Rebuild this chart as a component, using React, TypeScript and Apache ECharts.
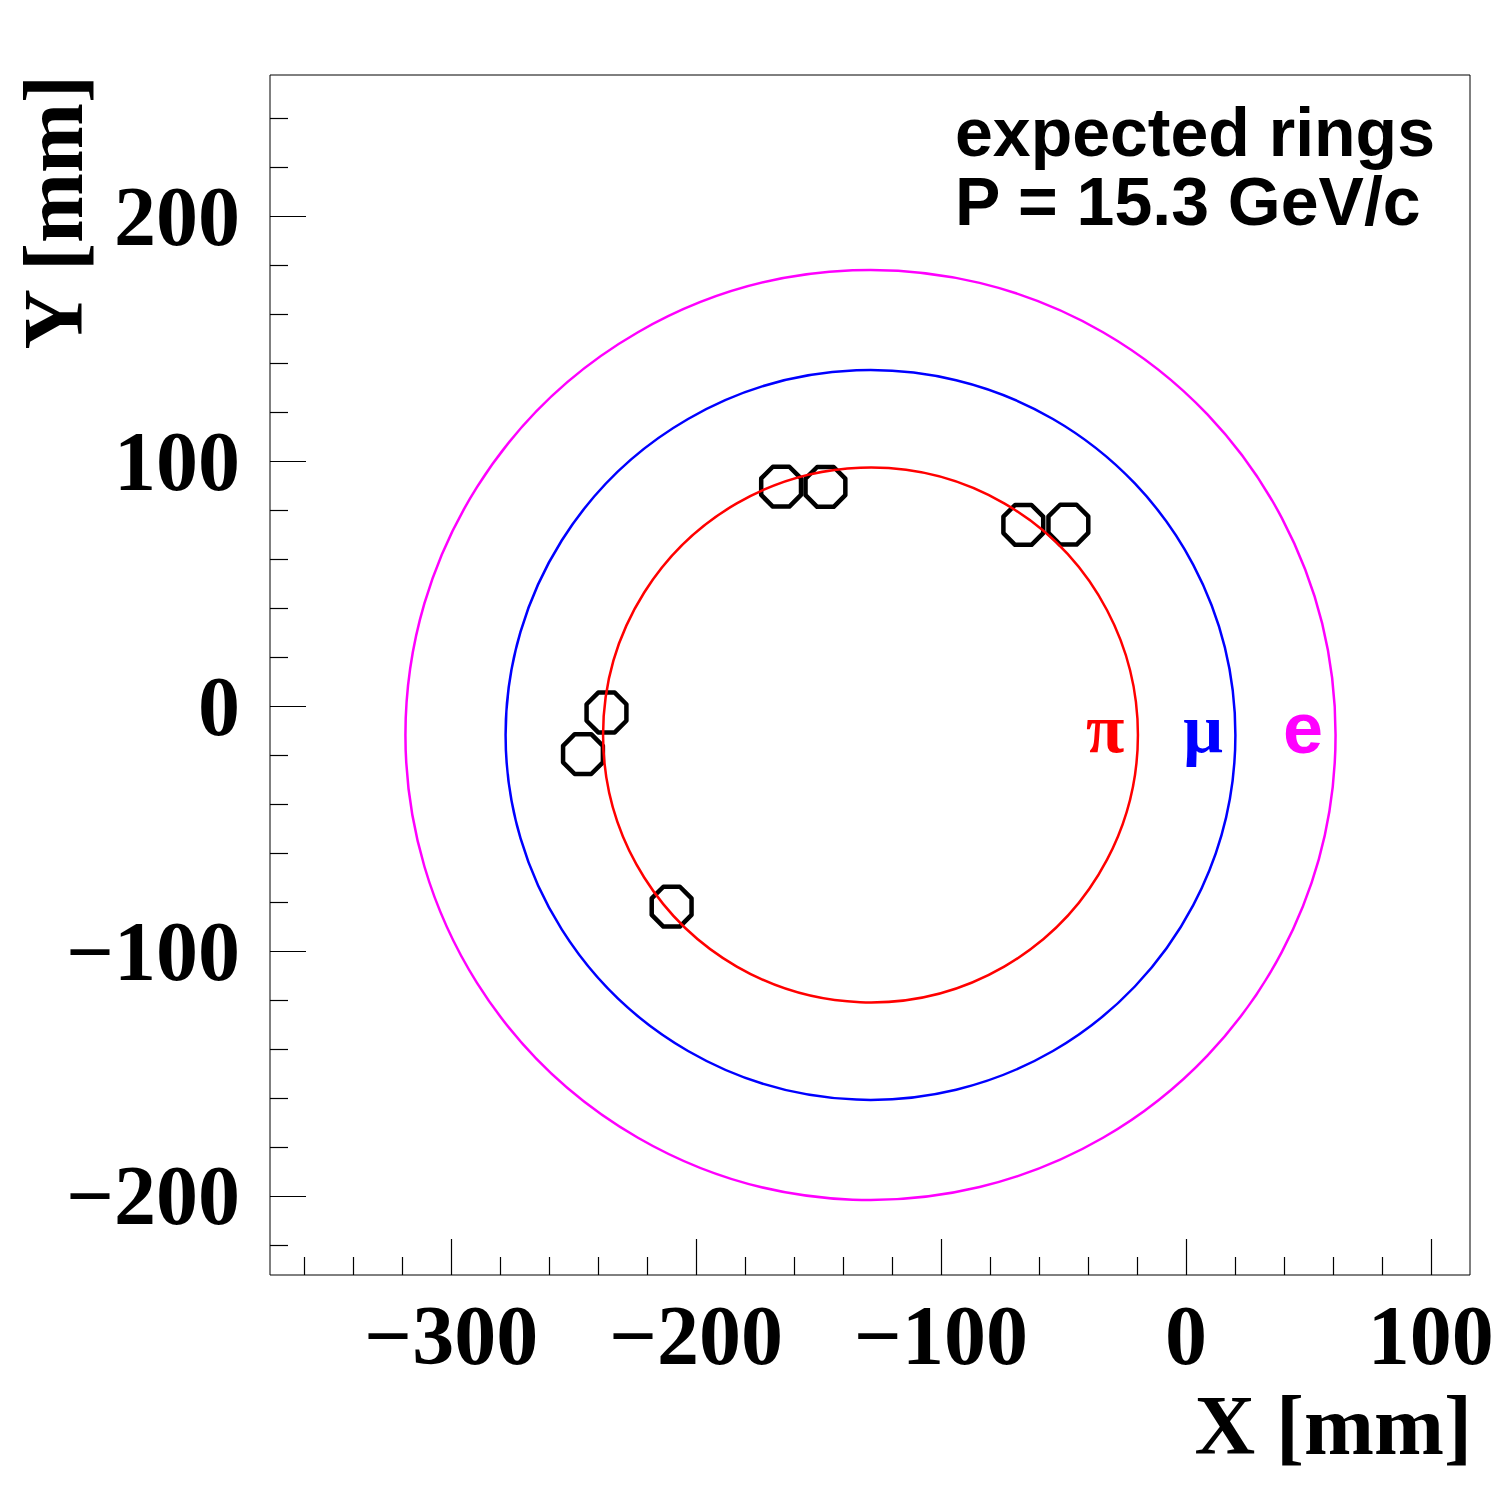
import React, { useEffect, useRef } from "react";
import * as echarts from "echarts";

// Axis ranges (mm)
const X_MIN = -374;
const X_MAX = 116;
const Y_MIN = -232.3;
const Y_MAX = 257.7;

// Tick values
const xMajorTicks = [-300, -200, -100, 0, 100];
const xMinorTicks = [-360, -340, -320, -280, -260, -240, -220, -180, -160, -140, -120, -80, -60, -40, -20, 20, 40, 60, 80];
const yMajorTicks = [-200, -100, 0, 100, 200];
const yMinorTicks = [-220, -180, -160, -140, -120, -80, -60, -40, -20, 20, 40, 60, 80, 120, 140, 160, 180, 220, 240];

// Expected rings
const ringCenterX = -128.8;
const ringCenterY = -11.8;
const ringNames = ["π", "μ", "e"];
const ringRadii = [109.2, 149.0, 189.9];
const ringColors = ["#ff0000", "#0000ff", "#ff00ff"];
const ringLabelX = [-33, 7, 47.8];
const ringLabelY = -9;

// Hits (pads)
const hitX = [-165.3, -147.2, -66.4, -48.0, -236.6, -246.2, -210.0];
const hitY = [89.6, 89.5, 74.0, 74.1, -2.6, -19.6, -81.9];
const hitRadius = 8.8;

const titleLines = ["expected rings", "P = 15.3 GeV/c"];

const SERIF = "'Liberation Serif', 'Times New Roman', serif";
const SANS = "'Liberation Sans', Arial, Helvetica, sans-serif";

const fmt = (v: number) => (v < 0 ? "\u2212" + Math.abs(v) : String(v));

export default function App() {
  const ref = useRef<HTMLDivElement>(null);

  useEffect(() => {
    if (!ref.current) return;
    const chart = echarts.init(ref.current, undefined, { renderer: "svg" });

    const labelStyle = {
      fontFamily: SERIF,
      fontWeight: "bold" as const,
      fontSize: 84,
      color: "#000",
      formatter: fmt,
    };
    const tickLine = { color: "#000", width: 1.2 };

    const option: any = {
      animation: false,
      backgroundColor: "#ffffff",
      grid: {
        left: 270,
        top: 75,
        width: 1200,
        height: 1200,
        show: true,
        borderColor: "#000",
        borderWidth: 1,
        backgroundColor: "transparent",
      },
      xAxis: [
        {
          type: "value",
          min: X_MIN,
          max: X_MAX,
          position: "bottom",
          splitLine: { show: false },
          axisLine: { show: false, onZero: false },
          axisTick: { show: true, inside: true, length: 36, customValues: xMajorTicks, lineStyle: tickLine },
          axisLabel: { show: true, customValues: xMajorTicks, margin: 18, ...labelStyle },
        },
        {
          type: "value",
          min: X_MIN,
          max: X_MAX,
          position: "bottom",
          splitLine: { show: false },
          axisLine: { show: false, onZero: false },
          axisTick: { show: true, inside: true, length: 18, customValues: xMinorTicks, lineStyle: tickLine },
          axisLabel: { show: false },
        },
      ],
      yAxis: [
        {
          type: "value",
          min: Y_MIN,
          max: Y_MAX,
          position: "left",
          splitLine: { show: false },
          axisLine: { show: false, onZero: false },
          axisTick: { show: true, inside: true, length: 36, customValues: yMajorTicks, lineStyle: tickLine },
          axisLabel: { show: true, customValues: yMajorTicks, margin: 30, ...labelStyle },
        },
        {
          type: "value",
          min: Y_MIN,
          max: Y_MAX,
          position: "left",
          splitLine: { show: false },
          axisLine: { show: false, onZero: false },
          axisTick: { show: true, inside: true, length: 18, customValues: yMinorTicks, lineStyle: tickLine },
          axisLabel: { show: false },
        },
      ],
      series: [
        {
          type: "custom",
          name: "hits",
          xAxisIndex: 0,
          yAxisIndex: 0,
          data: hitX.map((x, i) => [x, hitY[i], hitRadius]),
          renderItem: (params: any, api: any) => {
            const c = api.coord([api.value(0), api.value(1)]);
            const r = api.size([api.value(2), 0])[0];
            const pts: number[][] = [];
            for (let k = 0; k < 8; k++) {
              const a = Math.PI / 8 + (k * Math.PI) / 4;
              pts.push([c[0] + r * Math.cos(a), c[1] + r * Math.sin(a)]);
            }
            return {
              type: "polygon",
              shape: { points: pts },
              style: { fill: "none", stroke: "#000", lineWidth: 4.5, lineJoin: "round" },
            };
          },
        },
        {
          type: "custom",
          name: "rings",
          xAxisIndex: 0,
          yAxisIndex: 0,
          data: ringRadii.map((r, i) => [ringCenterX, ringCenterY, r, i]),
          renderItem: (params: any, api: any) => {
            const c = api.coord([api.value(0), api.value(1)]);
            const r = api.size([api.value(2), 0])[0];
            return {
              type: "circle",
              shape: { cx: c[0], cy: c[1], r },
              style: { fill: "none", stroke: ringColors[params.dataIndex], lineWidth: 2.5 },
            };
          },
        },
        {
          type: "custom",
          name: "ringLabels",
          xAxisIndex: 0,
          yAxisIndex: 0,
          data: ringLabelX.map((x, i) => [x, ringLabelY, i]),
          renderItem: (params: any, api: any) => {
            const c = api.coord([api.value(0), api.value(1)]);
            const i = params.dataIndex;
            const isSans = ringNames[i] === "e";
            return {
              type: "text",
              x: c[0],
              y: c[1],
              style: {
                text: ringNames[i],
                fill: ringColors[i],
                font: isSans ? `bold 72px ${SANS}` : `bold 70px ${SERIF}`,
                align: "center",
                verticalAlign: "middle",
              },
            };
          },
        },
      ],
      graphic: [
        {
          type: "text",
          left: 955,
          top: 97,
          style: {
            text: titleLines.join("\n"),
            fill: "#000",
            font: `bold 68px ${SANS}`,
            lineHeight: 69,
          },
        },
        {
          type: "text",
          x: 1472,
          y: 1425,
          style: {
            text: "X [mm]",
            fill: "#000",
            font: `bold 84px ${SERIF}`,
            align: "right",
            verticalAlign: "middle",
          },
        },
        {
          type: "text",
          x: 53,
          y: 75,
          rotation: Math.PI / 2,
          style: {
            text: "Y [mm]",
            fill: "#000",
            font: `bold 84px ${SERIF}`,
            align: "right",
            verticalAlign: "middle",
          },
        },
      ],
    };

    chart.setOption(option);
    return () => chart.dispose();
  }, []);

  return (
    <div
      ref={ref}
      style={{ position: "absolute", left: 0, top: 0, width: 1500, height: 1500, background: "#fff" }}
    />
  );
}
